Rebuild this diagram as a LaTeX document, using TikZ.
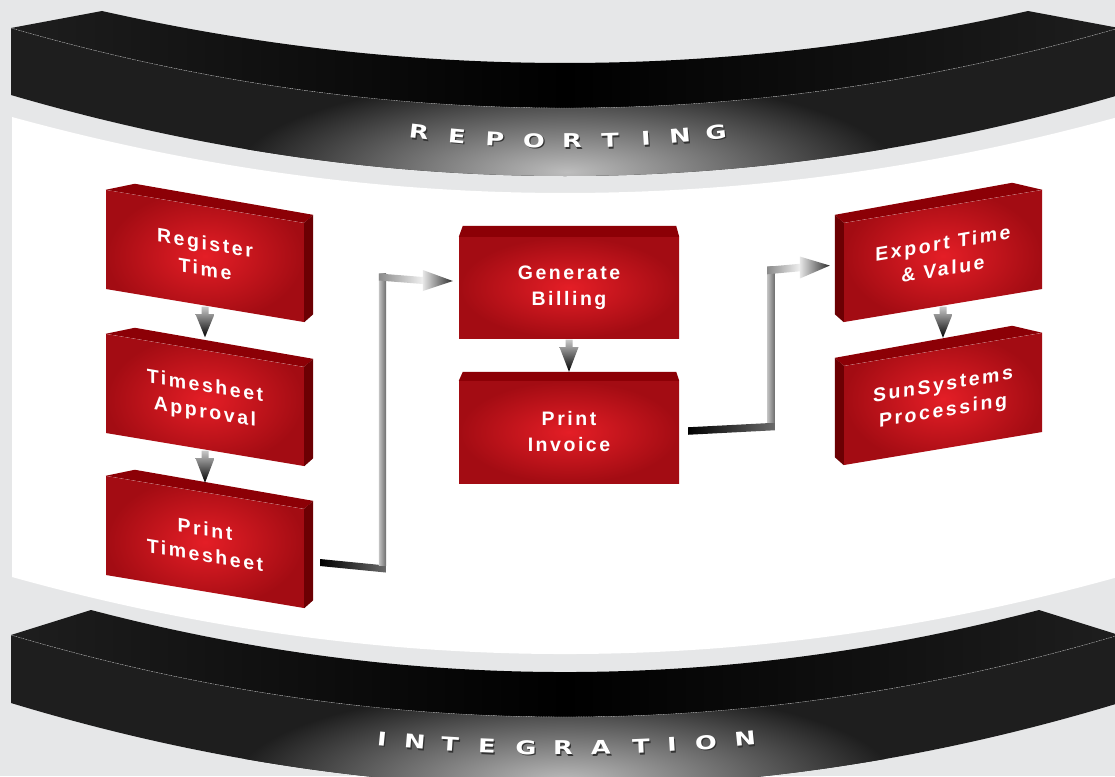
\documentclass[tikz,border=0pt]{standalone}
\usepackage{fontspec}
\usepackage{graphicx}
\usetikzlibrary{calc}
\newfontfamily\boxfont{Liberation Sans}[LetterSpace=13]
\newfontfamily\bandfont{DejaVu Sans}
\definecolor{bg}{HTML}{E6E7E8}
\definecolor{redhi}{HTML}{E41E26}
\definecolor{redlo}{HTML}{A30C13}
\definecolor{redtop}{HTML}{8C0006}
\definecolor{redside}{HTML}{6C0003}
\definecolor{bandside}{HTML}{1E1E1E}
\definecolor{bandhi}{HTML}{BDBDBD}
\definecolor{arrtop}{HTML}{C8C8C8}
\definecolor{cgray}{HTML}{8A8A8A}
\definecolor{clight}{HTML}{C4C4C4}
\definecolor{cdark}{HTML}{6A6A6A}
\definecolor{cwhite}{HTML}{F0F0F0}
\definecolor{headlight}{HTML}{E6E6E6}
\definecolor{headdark}{HTML}{2D2D2D}
\newcommand\boxtxt{\boxfont\bfseries\fontsize{19.5}{26}\selectfont}
\newcommand\bandfnt{\bandfont\bfseries\fontsize{19}{19}\selectfont}
\newcommand\dnarrow[2]{\shade[top color=arrtop, bottom color=black]
  ($(#1)+(-3.5,0)$) -- ($(#1)+(3.5,0)$) -- ($(#1)+(3.5,7.5)$) -- ($(#1)+(9.5,7.5)$) --
  (#2) -- ($(#1)+(-9.5,7.5)$) -- ($(#1)+(-3.5,7.5)$) -- cycle;}
\newcommand\leftfaces[1]{%
  \fill[redtop] (#1.north west) -- ($(#1.north west)+(29,-6)$) -- ($(#1.north east)+(9,-8)$) -- (#1.north east) -- cycle;
  \fill[redside] (#1.north east) -- ($(#1.north east)+(9,-8)$) -- ($(#1.south east)+(9,-8)$) -- (#1.south east) -- cycle;}
\newcommand\rightfaces[1]{%
  \fill[redtop] (#1.north west) -- ($(#1.north west)+(-9,-8)$) -- ($(#1.north east)+(-30,-7)$) -- (#1.north east) -- cycle;
  \fill[redside] (#1.north west) -- ($(#1.north west)+(-9,-8)$) -- ($(#1.south west)+(-9,-8)$) -- (#1.south west) -- cycle;}
\begin{document}
\begin{tikzpicture}[x=1pt,y=-1pt,
  frontface/.style={shape=rectangle, minimum width=198pt, minimum height=99pt, inner sep=0pt,
    shading=radial, inner color=redhi, outer color=redlo, text=white, align=center,
    font=\boxtxt, transform shape},
  letter/.style={font=\bandfnt, text=white, inner sep=0pt},
  lettershadow/.style={font=\bandfnt, text=black!80, inner sep=0pt},
  dashline/.style={draw=gray!60, line width=0.4pt, dash pattern=on 1.5pt off 1pt}]
\useasboundingbox (0,0) rectangle (1115,776);
\fill[bg] (0,0) rectangle (1115,776);
% white stage
\fill[white] (12,117) .. controls (380.7,218.3) and (749.3,218.3) .. (1118,117) -- (1118,577)
  .. controls (749.3,679.7) and (380.7,679.7) .. (12,577) -- cycle;
% ---------- top band ----------
\shade[left color=bandside, right color=bandside, middle color=black]
  (11,28) -- (102,11) .. controls (410.7,80.3) and (719.3,80.3) .. (1028,11) -- (1119,28)
  .. controls (749.7,134.7) and (380.3,134.7) .. (11,28) -- cycle;
\fill[bandside] (11,28) .. controls (380.3,134.7) and (749.7,134.7) .. (1119,28) -- (1119,95)
  .. controls (749.7,203) and (380.3,203) .. (11,95) -- cycle;
\begin{scope}
  \clip (11,28) .. controls (380.3,134.7) and (749.7,134.7) .. (1119,28) -- (1119,95)
    .. controls (749.7,203) and (380.3,203) .. (11,95) -- cycle;
  \shade[inner color=bandhi, outer color=bandside] (567,172) ellipse [x radius=330pt, y radius=95pt];
\end{scope}
\draw[dashline] (11,28) .. controls (380.3,134.7) and (749.7,134.7) .. (1119,28);
% ---------- bottom band ----------
\shade[left color=bandside, right color=bandside, middle color=black]
  (11,635) -- (91,610) .. controls (407,692.7) and (723,692.7) .. (1039,610) -- (1119,635)
  .. controls (749.7,744.3) and (380.3,744.3) .. (11,635) -- cycle;
\fill[bandside] (11,635) .. controls (380.3,744.3) and (749.7,744.3) .. (1119,635) -- (1119,703)
  .. controls (749.7,815) and (380.3,815) .. (11,703) -- cycle;
\begin{scope}
  \clip (11,635) .. controls (380.3,744.3) and (749.7,744.3) .. (1119,635) -- (1119,703)
    .. controls (749.7,815) and (380.3,815) .. (11,703) -- cycle;
  \shade[inner color=bandhi, outer color=bandside] (565,782) ellipse [x radius=330pt, y radius=95pt];
\end{scope}
\draw[dashline] (11,635) .. controls (380.3,744.3) and (749.7,744.3) .. (1119,635);
% band letters
\foreach \x/\l [count=\i] in {419/R,457/E,495/P,534/O,572/R,610/T,646/I,680/N,716/G}{
  \pgfmathsetmacro{\uu}{(\x-567)/150}
  \pgfmathsetmacro{\yy}{141-9*\uu*\uu}
  \pgfmathsetmacro{\rr}{atan(0.12*\uu)}
  \node[lettershadow, rotate=\rr] (rs\i) at (\x+1.2,\yy+1.6) {\scalebox{1.35}[1]{\l}};
  \node[letter, rotate=\rr] (r\i) at (\x,\yy) {\scalebox{1.35}[1]{\l}};
}
\foreach \x/\l [count=\i] in {382/I,415/N,450/T,487/E,526/G,563/R,601/A,641/T,672/I,706/O,745/N}{
  \pgfmathsetmacro{\uu}{(\x-563)/180}
  \pgfmathsetmacro{\yy}{748-9*\uu*\uu}
  \pgfmathsetmacro{\rr}{atan(0.1*\uu)}
  \node[lettershadow, rotate=\rr] (is\i) at (\x+1.2,\yy+1.6) {\scalebox{1.35}[1]{\l}};
  \node[letter, rotate=\rr] (i\i) at (\x,\yy) {\scalebox{1.35}[1]{\l}};
}
% ---------- boxes ----------
\begin{scope}[shift={(205,256)}, yslant=-0.1667]
  \node[frontface] (rt) at (0,0) {Register\\Time};
\end{scope}
\begin{scope}[shift={(205,400)}, yslant=-0.1667]
  \node[frontface] (ta) at (0,0) {Timesheet\\Approval};
\end{scope}
\begin{scope}[shift={(205,542)}, yslant=-0.1667]
  \node[frontface] (pt) at (0,0) {Print\\Timesheet};
\end{scope}
\leftfaces{rt}
\leftfaces{ta}
\leftfaces{pt}
\begin{scope}[shift={(943,256)}, yslant=0.1667]
  \node[frontface] (ex) at (0,0) {Export Time\\\& Value};
\end{scope}
\begin{scope}[shift={(943,399)}, yslant=0.1667]
  \node[frontface] (ss) at (0,0) {SunSystems\\Processing};
\end{scope}
\rightfaces{ex}
\rightfaces{ss}
\node[frontface, minimum width=220pt, minimum height=101pt] (gb) at (569,287.5) {Generate\\Billing};
\node[frontface, minimum width=220pt, minimum height=102pt] (pi) at (569,432) {Print\\Invoice};
\fill[redtop] (gb.north west) -- ($(gb.north west)+(4,-11)$) -- ($(gb.north east)+(-3,-11)$) -- (gb.north east) -- cycle;
\fill[redtop] (pi.north west) -- ($(pi.north west)+(4,-9)$) -- ($(pi.north east)+(-3,-9)$) -- (pi.north east) -- cycle;
% ---------- small arrows ----------
\coordinate (a1s) at ($(rt.south)+(0,1)$);  \coordinate (a1t) at ($(ta.north)+(0,-13)$);
\coordinate (a2s) at ($(ta.south)+(0,1)$);  \coordinate (a2t) at ($(pt.north)+(0,-9.5)$);
\coordinate (a3s) at ($(gb.south)+(0,1.5)$); \coordinate (a3t) at ($(pi.north)+(0,-9)$);
\coordinate (a4s) at ($(ex.south)+(0,1)$);  \coordinate (a4t) at ($(ss.north)+(0,-11.5)$);
\dnarrow{a1s}{a1t}
\dnarrow{a2s}{a2t}
\dnarrow{a3s}{a3t}
\dnarrow{a4s}{a4t}
% ---------- connector 1: Print Timesheet -> Generate Billing ----------
\coordinate (c1s) at ($(pt.east)+(16,4)$);
\coordinate (c1t) at ($(gb.west)+(-6,-6.5)$);
\coordinate (c1a) at ($(c1s)+(62.5,6.5)$);
\coordinate (c1b) at ($(c1t)+(-70.5,-4)$);
\coordinate (c1h) at ($(c1t)+(-30,-0.5)$);
\shade[left color=black, right color=cdark] ($(c1s)+(0,-3.5)$) -- ($(c1a)+(3.5,-3.5)$) -- ($(c1a)+(3.5,3.5)$) -- ($(c1s)+(0,3.5)$) -- cycle;
\shade[left color=clight, right color=cdark] ($(c1b)+(-3.5,-3.5)$) rectangle ($(c1a)+(3.5,-3.5)$);
\shade[left color=cgray, right color=cwhite] ($(c1b)+(-3.5,-3.5)$) -- ($(c1h)+(0,-3.5)$) -- ($(c1h)+(0,3.5)$) -- ($(c1b)+(-3.5,3.5)$) -- cycle;
\shade[left color=headlight, right color=headdark] ($(c1h)+(0,-10.5)$) -- (c1t) -- ($(c1h)+(0,10.5)$) -- cycle;
% ---------- connector 2: Print Invoice -> Export Time & Value ----------
\coordinate (c2s) at ($(pi.east)+(9,-1)$);
\coordinate (c2t) at ($(ex.west)+(-14,-7)$);
\coordinate (c2a) at ($(c2s)+(83,-4.5)$);
\coordinate (c2b) at ($(c2t)+(-59,5)$);
\coordinate (c2h) at ($(c2t)+(-30,2)$);
\shade[left color=black, right color=cdark] ($(c2s)+(0,-3.75)$) -- ($(c2a)+(3.75,-3.75)$) -- ($(c2a)+(3.75,3.75)$) -- ($(c2s)+(0,3.75)$) -- cycle;
\shade[left color=clight, right color=cdark] ($(c2b)+(-3.75,-3.75)$) rectangle ($(c2a)+(3.75,-3.75)$);
\shade[left color=cgray, right color=cwhite] ($(c2b)+(-3.75,-3.75)$) -- ($(c2h)+(0,-3.75)$) -- ($(c2h)+(0,3.75)$) -- ($(c2b)+(-3.75,3.75)$) -- cycle;
\shade[left color=headlight, right color=headdark] ($(c2h)+(0,-11)$) -- (c2t) -- ($(c2h)+(0,11)$) -- cycle;
\end{tikzpicture}
\end{document}
